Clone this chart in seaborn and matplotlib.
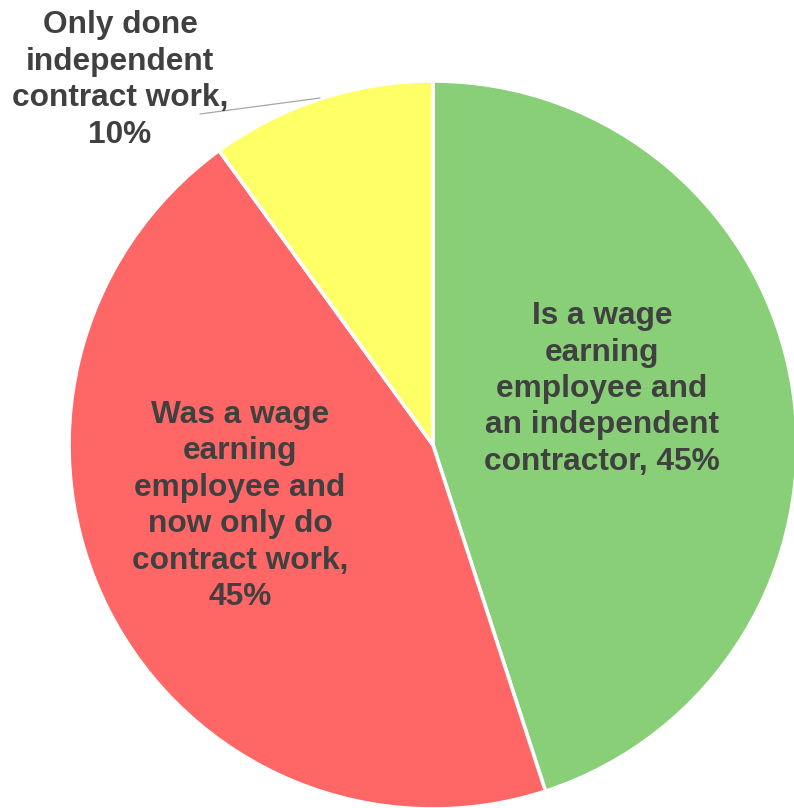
import matplotlib
matplotlib.use("Agg")
import matplotlib.pyplot as plt
import seaborn as sns

sns.set_theme(style="white")
plt.rcParams["font.family"] = ["Liberation Sans", "DejaVu Sans"]

# Work status shares
categories = [
    "Is a wage\nearning\nemployee and\nan independent\ncontractor",
    "Was a wage\nearning\nemployee and\nnow only do\ncontract work,",
    "Only done\nindependent\ncontract work,",
]
shares = [45, 45, 10]
colors = ["#88CF78", "#FF6666", "#FFFF66"]

W, H = 794, 808
fig = plt.figure(figsize=(W / 100, H / 100), dpi=100)
ax = fig.add_axes([0, 0, 1, 1])

cx, cy, r = 433, H - 445, 364
wedges, _ = ax.pie(
    shares,
    colors=colors,
    startangle=90,
    counterclock=False,
    center=(cx, cy),
    radius=r,
    wedgeprops=dict(edgecolor="white", linewidth=2.6),
    frame=True,
)
ax.set_xlim(0, W)
ax.set_ylim(0, H)
ax.set_aspect("equal")
ax.axis("off")

txt = dict(ha="center", va="center", multialignment="center",
           fontsize=22.8, fontweight="bold", color="#404040", linespacing=1.28)

ax.text(602, H - 389, f"{categories[0]}, {shares[0]}%", **txt)
ax.text(240, H - 506, f"{categories[1]}\n{shares[1]}%", **txt)
ax.text(120, H - 80, f"{categories[2]}\n{shares[2]}%", **txt)

# leader line for the small slice
ax.plot([200, 320], [H - 114, H - 98], color="#A6A6A6", linewidth=0.9)

fig.savefig("out.png", dpi=100, facecolor="white")
